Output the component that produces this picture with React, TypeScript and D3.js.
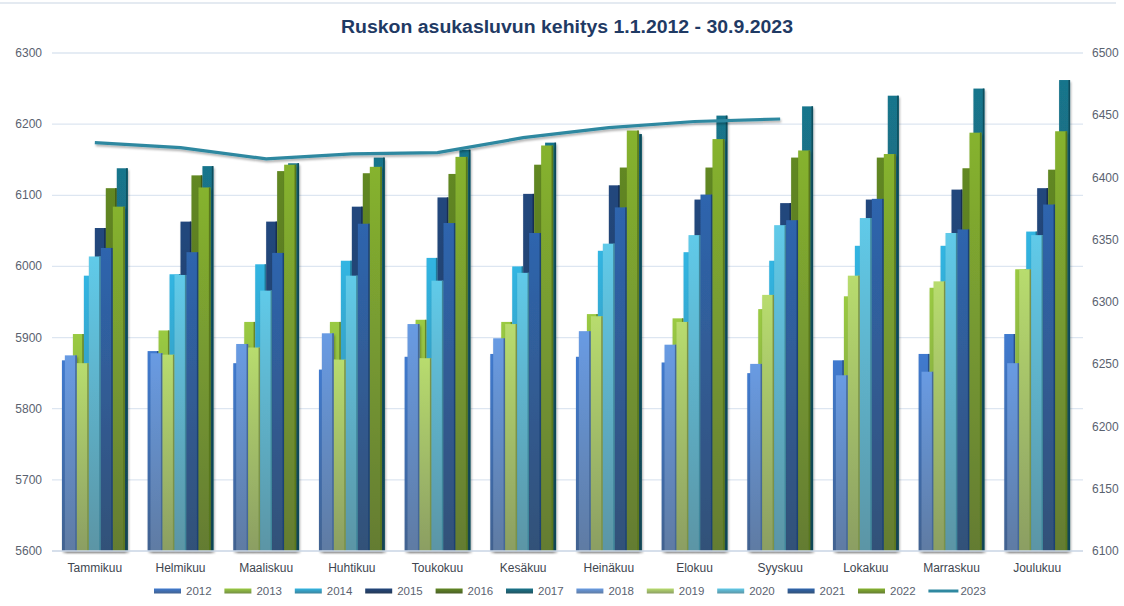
import React from "react";
import * as d3 from "d3";

const months = ["Tammikuu", "Helmikuu", "Maaliskuu", "Huhtikuu", "Toukokuu", "Kesäkuu", "Heinäkuu", "Elokuu", "Syyskuu", "Lokakuu", "Marraskuu", "Joulukuu"];

const s2012 = [5868, 5881, 5864, 5855, 5873, 5877, 5873, 5865, 5850, 5868, 5877, 5905];
const s2013 = [5905, 5910, 5922, 5922, 5925, 5922, 5933, 5927, 5940, 5958, 5970, 5996];
const s2014 = [5987, 5989, 6003, 6008, 6012, 6000, 6022, 6020, 6008, 6029, 6029, 6049];
const s2015 = [6054, 6063, 6063, 6084, 6097, 6102, 6114, 6094, 6089, 6094, 6108, 6110];
const s2016 = [6110, 6128, 6134, 6131, 6130, 6143, 6139, 6139, 6153, 6153, 6138, 6136];
const s2017 = [6138, 6141, 6145, 6153, 6164, 6174, 6186, 6212, 6225, 6240, 6250, 6262];
const s2018 = [5875, 5878, 5891, 5906, 5919, 5899, 5909, 5890, 5863, 5847, 5852, 5864];
const s2019 = [5864, 5876, 5886, 5869, 5871, 5919, 5930, 5922, 5960, 5987, 5979, 5996];
const s2020 = [6014, 5988, 5966, 5987, 5980, 5991, 6032, 6044, 6058, 6068, 6047, 6044];
const s2021 = [6026, 6020, 6019, 6060, 6061, 6047, 6083, 6101, 6065, 6095, 6052, 6087];
const s2022 = [6084, 6111, 6143, 6140, 6154, 6170, 6191, 6179, 6163, 6158, 6188, 6190];
const s2023 = [6428, 6424, 6415, 6419, 6420, 6432, 6440, 6445, 6447];

const leftTicks = [5600, 5700, 5800, 5900, 6000, 6100, 6200, 6300];
const rightTicks = [6100, 6150, 6200, 6250, 6300, 6350, 6400, 6450, 6500];

// first group of columns (drawn behind) and second group (drawn in front)
const groupA = [
  { name: "2012", values: s2012, color: "#3a70bd" },
  { name: "2013", values: s2013, color: "#8db93c" },
  { name: "2014", values: s2014, color: "#2ea6cf" },
  { name: "2015", values: s2015, color: "#1f4172" },
  { name: "2016", values: s2016, color: "#5a7c20" },
  { name: "2017", values: s2017, color: "#176b80" },
];
const groupB = [
  { name: "2018", values: s2018, color: "#5f8ed0" },
  { name: "2019", values: s2019, color: "#a8c965" },
  { name: "2020", values: s2020, color: "#58b9d5" },
  { name: "2021", values: s2021, color: "#2a5c9f" },
  { name: "2022", values: s2022, color: "#7ba42a" },
];
const lineColor = "#2f88a0";

const W = 1124, H = 606;
const top = 53, bottom = 551;
const font = "Liberation Sans, Arial, sans-serif";

export default function App() {
  const x = d3.scaleBand().domain(months).range([52, 1080]).padding(0);
  const bw = x.bandwidth();
  const yL = d3.scaleLinear().domain([5600, 6300]).range([bottom, top]);
  const yR = d3.scaleLinear().domain([6100, 6500]).range([bottom, top]);
  const cx = (m: string) => (x(m) as number) + bw / 2;

  const wA = bw * 0.128;
  const wB = bw * 0.14;

  const line = d3
    .line<number>()
    .x((_, i) => cx(months[i]))
    .y((d) => yR(d));

  const all = [...groupA, ...groupB];

  const bar = (s: any, i: number, w: number, n: number, key: string) =>
    s.values.map((v: number, mi: number) => {
      const x0 = cx(months[mi]) - (n * w) / 2 + i * w;
      const y0 = yL(v);
      const h = bottom - y0;
      return (
        <g key={key + mi}>
          <rect x={x0} y={y0} width={w} height={h} fill={`url(#g${s.name})`} />
          <rect x={x0 + w - 1.6} y={y0} width={1.6} height={h} fill={d3.color(s.color)!.darker(0.9).toString()} />
        </g>
      );
    });

  const bottomColor = (c: string) => {
    const hsl = d3.hsl(d3.color(c)!.darker(0.45) as any);
    hsl.s = hsl.s * 0.7;
    return hsl.toString();
  };

  return (
    <svg width={W} height={H} style={{ position: "absolute", left: 0, top: 0, background: "#fff" }}>
      <defs>
        {all.map((s) => (
          <linearGradient key={s.name} id={`g${s.name}`} x1="0" y1="0" x2="0" y2="1">
            <stop offset="0" stopColor={d3.color(s.color)!.brighter(0.25).toString()} />
            <stop offset="1" stopColor={bottomColor(s.color)} />
          </linearGradient>
        ))}
        <filter id="sh" x="-5%" y="-20%" width="110%" height="160%">
          <feDropShadow dx="1" dy="2" stdDeviation="1.2" floodColor="#000" floodOpacity="0.3" />
        </filter>
      </defs>

      <line x1={0} x2={1116} y1={3} y2={3} stroke="#dbe3ec" strokeWidth={1.5} />

      <text x={567} y={33} textAnchor="middle" fontFamily={font} fontWeight="bold" fontSize={18} fill="#1f3a64" textLength={452} lengthAdjust="spacingAndGlyphs">
        Ruskon asukasluvun kehitys 1.1.2012 - 30.9.2023
      </text>

      {leftTicks.map((t) => (
        <g key={"l" + t}>
          <line x1={52} x2={1083} y1={yL(t)} y2={yL(t)} stroke="#dde6f1" strokeWidth={1.3} />
          <text x={42} y={yL(t) + 4} textAnchor="end" fontFamily={font} fontSize={12} fill="#5a6270">
            {t}
          </text>
        </g>
      ))}
      {rightTicks.map((t) => (
        <text key={"r" + t} x={1092} y={yR(t) + 4} fontFamily={font} fontSize={12} fill="#5a6270">
          {t}
        </text>
      ))}

      <g filter="url(#sh)">
        {groupA.map((s, i) => bar(s, i, wA, groupA.length, "a" + s.name))}
      </g>
      <g filter="url(#sh)">
        {groupB.map((s, i) => bar(s, i, wB, groupB.length, "b" + s.name))}
      </g>

      <line x1={52} x2={1083} y1={bottom} y2={bottom} stroke="#d0dbe8" strokeWidth={1.3} />

      <path d={line(s2023) as string} fill="none" stroke={lineColor} strokeWidth={3.2} filter="url(#sh)" />

      {months.map((m) => (
        <text key={m} x={cx(m)} y={572} textAnchor="middle" fontFamily={font} fontSize={12} fill="#404650">
          {m}
        </text>
      ))}

      {all.map((s, i) => {
        const lx = 154 + i * 70.4;
        return (
          <g key={"lg" + s.name}>
            <rect x={lx} y={588.5} width={27} height={5} fill={`url(#g${s.name})`} />
            <text x={lx + 32} y={595} fontFamily={font} fontSize={11.5} fill="#5a6270">
              {s.name}
            </text>
          </g>
        );
      })}
      <g>
        <line x1={154 + 11 * 70.4} x2={154 + 11 * 70.4 + 30} y1={591} y2={591} stroke={lineColor} strokeWidth={3} />
        <text x={154 + 11 * 70.4 + 32} y={595} fontFamily={font} fontSize={11.5} fill="#5a6270">
          2023
        </text>
      </g>
    </svg>
  );
}
